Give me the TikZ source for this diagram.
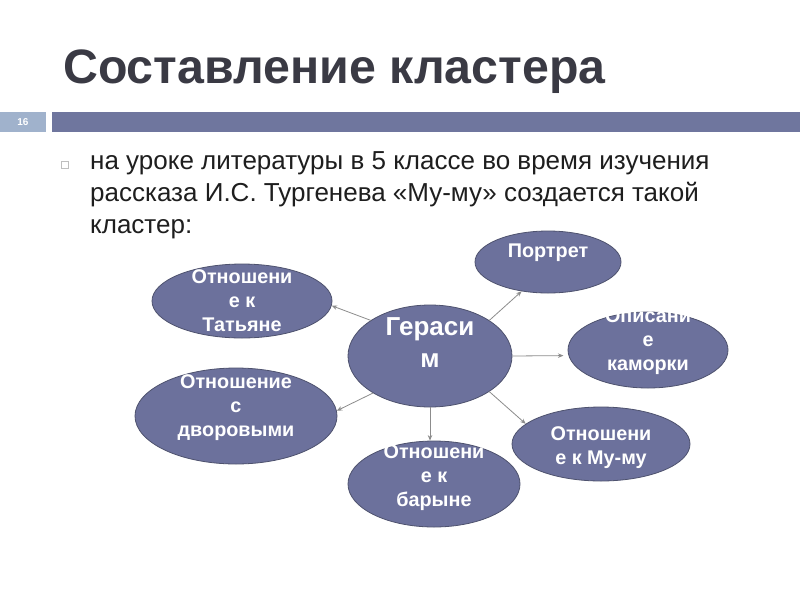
\documentclass[tikz,border=0pt]{standalone}
\usepackage{fontspec}
\setmainfont{Liberation Sans}
\usetikzlibrary{shapes.geometric,arrows.meta}
\definecolor{ellfill}{RGB}{108,113,156}
\definecolor{elldraw}{RGB}{78,82,110}
\definecolor{barmain}{RGB}{111,118,158}
\definecolor{barleft}{RGB}{160,178,204}
\definecolor{titlecol}{RGB}{58,58,68}
\definecolor{bodycol}{RGB}{30,30,30}
\definecolor{conncol}{RGB}{140,140,140}
\tikzset{
  bubble/.style={ellipse, fill=ellfill, draw=elldraw, line width=0.8pt, inner sep=0pt},
  btext/.style={text=white, font=\bfseries\fontsize{19.8}{24}\selectfont, align=center, inner sep=0pt, anchor=north},
  bodyline/.style={text=bodycol, font=\fontsize{26}{32}\selectfont, inner sep=0pt, anchor=base west},
  conn/.style={draw=conncol, line width=0.8pt, -{Stealth[length=5.5pt,width=4.5pt]}},
}
\begin{document}
\begin{tikzpicture}[x=1pt,y=-1pt]
\useasboundingbox (0,0) rectangle (800,600);
\fill[white] (0,0) rectangle (800,600);
% title
\node[text=titlecol, font=\bfseries\fontsize{48.3}{54}\selectfont, inner sep=0pt, anchor=base west] (title) at (63,83) {Составление кластера};
% header bar
\fill[barleft] (0,112) rectangle (46,132);
\node[text=white, font=\bfseries\fontsize{10}{12}\selectfont, inner sep=0pt] (num) at (23,122) {16};
\fill[barmain] (52,112) rectangle (800,132);
% bullet
\draw[draw=black!25, line width=0.6pt] (61,161) rectangle (68,168);
\node[bodyline] (l1) at (90,169) {на уроке литературы в 5 классе во время изучения};
\node[bodyline] (l2) at (90,201) {рассказа И.С. Тургенева «Му-му» создается такой};
\node[bodyline] (l3) at (90,233) {кластер:};
% bubbles
\node[bubble, minimum width=146, minimum height=62] (por) at (548,262) {};
\node[bubble, minimum width=160, minimum height=76] (kam) at (648,350) {};
\node[bubble, minimum width=164, minimum height=102] (ger) at (430,356) {};
\node[bubble, minimum width=180, minimum height=74] (tat) at (242,301) {};
\node[bubble, minimum width=202, minimum height=96] (dvo) at (236,416) {};
\node[bubble, minimum width=172, minimum height=86] (bar) at (434,484) {};
\node[bubble, minimum width=178, minimum height=74] (mum) at (601,444) {};
% connectors
\draw[conn] (ger.149) -- (tat.-3);
\draw[conn] (ger.213) -- (dvo.3);
\draw[conn] (ger.31.5) -- (por.-132);
\draw[conn, shorten >=5pt] (ger.east) -- (kam.184);
\draw[conn] (ger.south) -- (ger.south |- bar.north);
\draw[conn] (ger.-31) -- (mum.165);
% texts
\node[btext] (tpor) at (548,244) {Портрет};
\node[btext] (tkam) at (648,308) {Описани\\е\\каморки};
\node[btext, font=\bfseries\fontsize{26}{32}\selectfont] (tger) at (430,317) {Гераси\\м};
\node[btext] (ttat) at (242,269) {Отношени\\е к\\Татьяне};
\node[btext] (tdvo) at (236,374) {Отношение\\с\\дворовыми};
\node[btext] (tbar) at (434,444) {Отношени\\е к\\барыне};
\node[btext] (tmum) at (601,426) {Отношени\\е к Му-му};
\end{tikzpicture}
\end{document}
